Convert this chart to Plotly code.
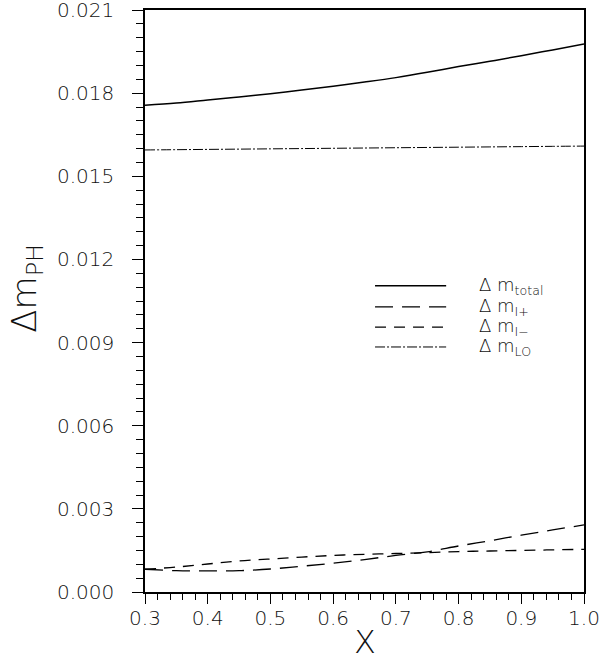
import plotly.graph_objects as go

x_vals = [0.30, 0.35, 0.40, 0.45, 0.50, 0.55, 0.60, 0.65, 0.70, 0.75, 0.80, 0.85, 0.90, 0.95, 1.00]
dm_total = [0.01756, 0.01764, 0.01775, 0.01786, 0.01798, 0.01811, 0.01825, 0.01840,
            0.01856, 0.01875, 0.01896, 0.01915, 0.01935, 0.01956, 0.01977]
dm_iplus = [0.00082, 0.00077, 0.00076, 0.00077, 0.00083, 0.00093, 0.00104, 0.00117,
            0.00132, 0.00145, 0.00166, 0.00185, 0.00205, 0.00224, 0.00242]
dm_iminus = [0.00082, 0.00090, 0.00101, 0.00112, 0.00119, 0.00126, 0.00132, 0.00136,
             0.00139, 0.00142, 0.00146, 0.00148, 0.00150, 0.00152, 0.00154]
dm_lo = [0.01595, 0.01596, 0.01597, 0.01598, 0.01599, 0.01600, 0.01601, 0.01602,
         0.01603, 0.01604, 0.01605, 0.01606, 0.01607, 0.01608, 0.01609]

series_names = ["Δ m<sub>total</sub>", "Δ m<sub>I+</sub>", "Δ m<sub>I−</sub>", "Δ m<sub>LO</sub>"]
y_ticks = [0.000, 0.003, 0.006, 0.009, 0.012, 0.015, 0.018, 0.021]
x_ticks = [0.3, 0.4, 0.5, 0.6, 0.7, 0.8, 0.9, 1.0]

styles = [
    dict(dash="solid", width=1.5),
    dict(dash="18px,9px", width=1.3),
    dict(dash="11px,8px", width=1.3),
    dict(dash="10px,2px,2px,2px", width=1.0),
]
data = [dm_total, dm_iplus, dm_iminus, dm_lo]

FONT = "DejaVu Sans"
INK = "#111111"

fig = go.Figure()
for name, ys, st in zip(series_names, data, styles):
    fig.add_trace(go.Scatter(x=x_vals, y=ys, mode="lines", name=name,
                             line=dict(color="black", shape="spline", **st),
                             showlegend=False))

# manual legend (keys drawn in paper coordinates, as in the original)
leg_y = [0.526, 0.490, 0.455, 0.421]
for name, st, ly in zip(series_names, styles, leg_y):
    fig.add_shape(type="line", xref="paper", yref="paper", x0=0.524, x1=0.686,
                  y0=ly, y1=ly, line=dict(color="black", **st))
    fig.add_annotation(xref="paper", yref="paper", x=0.756, y=ly, text=name,
                       showarrow=False, xanchor="left", yanchor="middle",
                       font=dict(family=FONT, size=18, color=INK, weight=200))

tick_font = dict(family=FONT, size=20, color=INK, weight=200)

fig.update_xaxes(range=[0.3, 1.0], tickvals=x_ticks, ticktext=[f"{v:.1f}" for v in x_ticks],
                 ticks="outside", ticklen=10, tickwidth=1.2, tickcolor="black",
                 minor=dict(dtick=0.02, tick0=0.3, ticks="outside", ticklen=6, tickcolor="black"),
                 showline=True, linecolor="black", linewidth=1.5, mirror=True,
                 showgrid=False, zeroline=False, ticklabelstandoff=-3, automargin=False,
                 ticklabeloverflow="allow", tickfont=tick_font)
fig.update_yaxes(range=[0.0, 0.021], tickvals=y_ticks, ticktext=[f"{v:.3f}" for v in y_ticks],
                 ticks="outside", ticklen=11, tickwidth=1.2, tickcolor="black",
                 minor=dict(dtick=0.0005, tick0=0, ticks="outside", ticklen=7, tickcolor="black"),
                 showline=True, linecolor="black", linewidth=1.5, mirror=True,
                 showgrid=False, zeroline=False, ticklabelstandoff=14, automargin=False,
                 ticklabeloverflow="allow", tickfont=tick_font)

fig.add_annotation(xref="paper", yref="paper", x=0.5, y=-0.086, text="X", showarrow=False,
                   xanchor="center", yanchor="middle",
                   font=dict(family=FONT, size=32, color=INK, weight=200))
fig.add_annotation(xref="paper", yref="paper", x=-0.27, y=0.522, text="Δm<sub>PH</sub>",
                   showarrow=False, textangle=-90, xanchor="center", yanchor="middle",
                   font=dict(family=FONT, size=34, color=INK, weight=200))

fig.update_layout(width=613, height=663, margin=dict(l=145, r=29, t=10, b=71),
                  plot_bgcolor="white", paper_bgcolor="white")

fig.write_html("out.html", config={"displayModeBar": False},
               post_script="document.body.style.margin='0';document.body.style.overflow='hidden';")
